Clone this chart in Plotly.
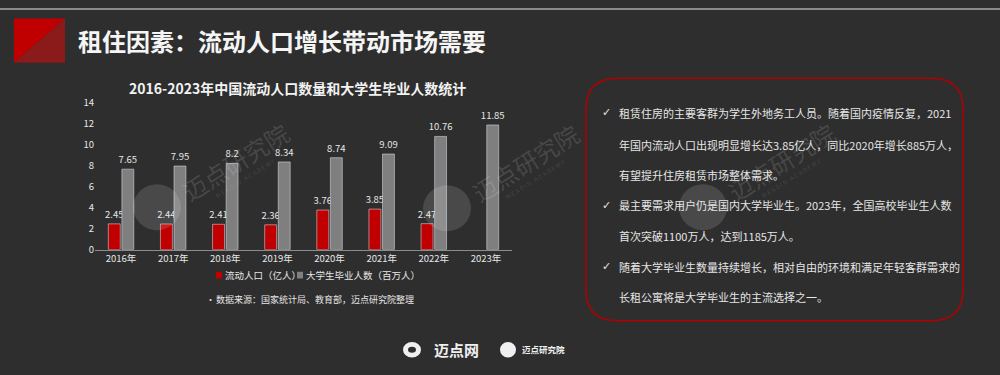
import plotly.graph_objects as go

# ---------------- data ----------------
years = ["2016年", "2017年", "2018年", "2019年", "2020年", "2021年", "2022年", "2023年"]
floating_pop = [2.45, 2.44, 2.41, 2.36, 3.76, 3.85, 2.47, None]      # 流动人口（亿人）
graduates = [7.65, 7.95, 8.2, 8.34, 8.74, 9.09, 10.76, 11.85]       # 大学生毕业人数（百万人）
y_ticks = [0, 2, 4, 6, 8, 10, 12, 14]

series_names = ["流动人口（亿人）", "大学生毕业人数（百万人）"]
main_title = "租住因素：流动人口增长带动市场需要"
chart_title = "2016-2023年中国流动人口数量和大学生毕业人数统计"
source_note = "数据来源：国家统计局、教育部，迈点研究院整理"
box_lines = [
    (True, "租赁住房的主要客群为学生外地务工人员。随着国内疫情反复，2021"),
    (False, "年国内流动人口出现明显增长达3.85亿人，同比2020年增长885万人，"),
    (False, "有望提升住房租赁市场整体需求。"),
    (True, "最主要需求用户仍是国内大学毕业生。2023年，全国高校毕业生人数"),
    (False, "首次突破1100万人，达到1185万人。"),
    (True, "随着大学毕业生数量持续增长，相对自由的环境和满足年轻客群需求的"),
    (False, "长租公寓将是大学毕业生的主流选择之一。"),
]

# ---------------- style ----------------
W, H = 1000, 375
BG = "#2e2e2e"
RED = "#c00000"
GRAY = "#7f7f7f"
FONT = "Noto Sans CJK SC, Noto Sans, sans-serif"
TXT = "#e6e6e6"


def X(px):
    return px / W


def Y(py):
    return 1 - py / H


def fmt(v):
    return "" if v is None else f"{v:g}"


fig = go.Figure()
fig.add_trace(go.Bar(
    x=years, y=floating_pop, name=series_names[0], marker_color=RED,
    text=[fmt(v) for v in floating_pop], textposition="outside", cliponaxis=False,
    constraintext="none",
    textfont=dict(size=9.5, color=TXT, family=FONT),
))
fig.add_trace(go.Bar(
    x=years, y=graduates, name=series_names[1], marker_color=GRAY,
    text=[fmt(v) for v in graduates], textposition="outside", cliponaxis=False,
    constraintext="none",
    textfont=dict(size=9.5, color=TXT, family=FONT),
))

shapes = []
annotations = []

# top edge line
shapes.append(dict(type="rect", xref="paper", yref="paper", x0=0, x1=1, y0=Y(2), y1=1,
                   fillcolor="#8a8a8a", line_width=0, layer="above"))

# header square (two triangles)
shapes.append(dict(type="path", xref="paper", yref="paper",
                   path=f"M {X(14)},{Y(11)} L {X(65)},{Y(11)} L {X(14)},{Y(57)} Z",
                   fillcolor="#c00000", line_width=0))
shapes.append(dict(type="path", xref="paper", yref="paper",
                   path=f"M {X(65)},{Y(11)} L {X(65)},{Y(57)} L {X(14)},{Y(57)} Z",
                   fillcolor="#8b1a1a", line_width=0))
annotations.append(dict(text=f"<b>{main_title}</b>", x=X(76), y=Y(34), xref="paper", yref="paper",
                        xanchor="left", yanchor="middle", showarrow=False,
                        font=dict(size=24, color="#f5f5f5", family=FONT)))

# chart title
annotations.append(dict(text=f"<b>{chart_title}</b>", x=X(297), y=Y(83), xref="paper", yref="paper",
                        xanchor="center", yanchor="middle", showarrow=False,
                        font=dict(size=14, color="#f2f2f2", family=FONT)))

# manual legend
legend_items = [(216, RED, series_names[0]), (297, GRAY, series_names[1])]
for lx, col, name in legend_items:
    shapes.append(dict(type="rect", xref="paper", yref="paper", x0=X(lx), x1=X(lx + 6),
                       y0=Y(281), y1=Y(274), fillcolor=col, line_width=0))
    annotations.append(dict(text=name, x=X(lx + 7), y=Y(277.5), xref="paper", yref="paper",
                            xanchor="left", yanchor="middle", showarrow=False,
                            font=dict(size=9.5, color=TXT, family=FONT)))

# source note
annotations.append(dict(text="•", x=X(204), y=Y(303), xref="paper", yref="paper",
                        xanchor="left", yanchor="middle", showarrow=False,
                        font=dict(size=9, color=TXT, family=FONT)))
annotations.append(dict(text=source_note, x=X(214), y=Y(303), xref="paper", yref="paper",
                        xanchor="left", yanchor="middle", showarrow=False,
                        font=dict(size=9, color=TXT, family=FONT)))

# rounded box
x0, x1, y0, y1, r = 586, 963, 73, 325, 32
path = (f"M {X(x0 + r)},{Y(y0)} L {X(x1 - r)},{Y(y0)} Q {X(x1)},{Y(y0)} {X(x1)},{Y(y0 + r)} "
        f"L {X(x1)},{Y(y1 - r)} Q {X(x1)},{Y(y1)} {X(x1 - r)},{Y(y1)} "
        f"L {X(x0 + r)},{Y(y1)} Q {X(x0)},{Y(y1)} {X(x0)},{Y(y1 - r)} "
        f"L {X(x0)},{Y(y0 + r)} Q {X(x0)},{Y(y0)} {X(x0 + r)},{Y(y0)} Z")
shapes.append(dict(type="path", xref="paper", yref="paper", path=path,
                   line=dict(color="#b00000", width=1.5)))

line_ys = [109, 142, 173, 205, 237, 269, 300]
for (check, txt), ly in zip(box_lines, line_ys):
    if check:
        annotations.append(dict(text="✓", x=X(600), y=Y(ly), xref="paper", yref="paper",
                                xanchor="left", yanchor="middle", showarrow=False,
                                font=dict(size=11, color=TXT, family="DejaVu Sans")))
    annotations.append(dict(text=txt, x=X(617), y=Y(ly), xref="paper", yref="paper",
                            xanchor="left", yanchor="middle", showarrow=False,
                            font=dict(size=11, color=TXT, family=FONT)))

# watermarks
for cx, cy in [(157, 207), (447, 208), (703, 207)]:
    shapes.append(dict(type="circle", xref="paper", yref="paper",
                       x0=X(cx - 24), x1=X(cx + 24), y0=Y(cy + 24), y1=Y(cy - 24),
                       fillcolor="rgba(255,255,255,0.13)", line_width=0, layer="above"))
    annotations.append(dict(text="迈点研究院", x=X(cx + 78), y=Y(cy - 48), xref="paper", yref="paper",
                            xanchor="center", yanchor="middle", showarrow=False, textangle=-32,
                            font=dict(size=24, color="rgba(255,255,255,0.13)", family=FONT)))
    annotations.append(dict(text="M E A D I N   A C A D E M Y", x=X(cx + 88), y=Y(cy - 30),
                            xref="paper", yref="paper", xanchor="center", yanchor="middle",
                            showarrow=False, textangle=-32,
                            font=dict(size=6, color="rgba(255,255,255,0.13)", family=FONT)))

# bottom logos
shapes.append(dict(type="circle", xref="paper", yref="paper", x0=X(403), x1=X(421),
                   y0=Y(363), y1=Y(347), fillcolor="#f0f0f0", line_width=0))
shapes.append(dict(type="circle", xref="paper", yref="paper", x0=X(408), x1=X(416),
                   y0=Y(358), y1=Y(352), fillcolor=BG, line_width=0))
annotations.append(dict(text="<b>迈点网</b>", x=X(432), y=Y(355), xref="paper", yref="paper",
                        xanchor="left", yanchor="middle", showarrow=False,
                        font=dict(size=15, color="#f0f0f0", family=FONT)))
shapes.append(dict(type="circle", xref="paper", yref="paper", x0=X(500), x1=X(516),
                   y0=Y(363), y1=Y(347), fillcolor="#f0f0f0", line_width=0))
annotations.append(dict(text="<b>迈点研究院</b>", x=X(520), y=Y(354), xref="paper", yref="paper",
                        xanchor="left", yanchor="middle", showarrow=False,
                        font=dict(size=8.5, color="#f0f0f0", family=FONT)))

fig.update_layout(
    width=W, height=H,
    margin=dict(l=0, r=0, t=0, b=0),
    paper_bgcolor=BG, plot_bgcolor=BG,
    barmode="group", bargap=0.48, bargroupgap=0.12,
    showlegend=False,
    font=dict(family=FONT, color=TXT),
    xaxis=dict(domain=[X(95), X(512)], showgrid=False, showline=True, linecolor="#8c8c8c",
               linewidth=1, ticks="", tickfont=dict(size=9.5, color=TXT, family=FONT),
               fixedrange=True),
    yaxis=dict(domain=[Y(251), Y(98)], range=[0, 14], tickvals=y_ticks, showgrid=False,
               zeroline=False, showline=False, ticks="", tickfont=dict(size=9.5, color=TXT, family=FONT),
               fixedrange=True),
    shapes=shapes, annotations=annotations,
)

fig.write_html("out.html")
